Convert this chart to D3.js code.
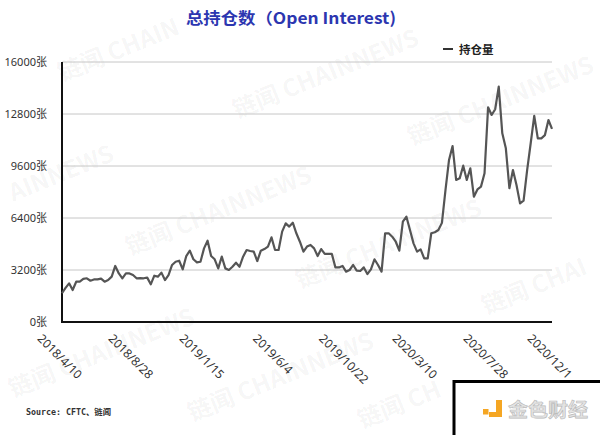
<!DOCTYPE html>
<html>
<head>
<meta charset="utf-8">
<script src="https://cdn.jsdelivr.net/npm/d3@7/dist/d3.min.js"></script>
<style>
  html, body { margin: 0; padding: 0; background: #fff; }
  svg { display: block; }
</style>
</head>
<body>
<svg id="chart" width="600" height="435"></svg>
<script>
// ---- data ----
const seriesName = "持仓量";
const openInterest = [
  1770, 2100, 2380, 1970, 2480, 2480, 2650, 2690, 2540, 2620,
  2620, 2670, 2480, 2580, 2790, 3450, 2990, 2690, 2990, 2990,
  2890, 2690, 2700, 2690, 2730, 2320, 2850, 2790, 3040, 2580,
  2890, 3510, 3710, 3770, 3240, 4060, 4390, 3860, 3670, 3710,
  4530, 5000, 4060, 3860, 3300, 4020, 3300, 3200, 3400, 3650,
  3400, 4020, 4430, 4370, 4330, 3750, 4390, 4490, 4640, 5210,
  4430, 4430, 5560, 6070, 5870, 6110, 5460, 4940, 4330, 4640,
  4740, 4530, 4060, 4490, 4190, 4190, 4190, 3360, 3360, 3450,
  3100, 3200, 3510, 3160, 3140, 3360, 2950, 3240, 3860, 3510,
  3100, 5460, 5460, 5250, 4940, 4390, 6170, 6480, 5660, 4840,
  4330, 4470, 3920, 3920, 5460, 5520, 5660, 6100, 8120, 9970,
  10830, 8740, 8840, 9620, 8740, 9460, 7710, 8160, 8330, 9150,
  13210, 12740, 13090, 14480, 11610, 10690, 8230, 9350, 8430, 7300,
  7470, 9350, 11000, 12680, 11300, 11300, 11500, 12430, 11880
];
const xTickLabels = ["2018/4/10", "2018/8/28", "2019/1/15", "2019/6/4", "2019/10/22", "2020/3/10", "2020/7/28", "2020/12/1"];
const xTickWeeks = [0, 20, 40, 60, 80, 100, 120, 138];
const yTicks = [0, 3200, 6400, 9600, 12800, 16000];
const yUnit = "张";
const titleText = "总持仓数（Open Interest)";
const sourceText = "Source: CFTC、链闻";
const logoText = "金色财经";
// watermark texts (visible parts of "链闻 CHAINNEWS")
const watermarkTexts = ["链闻 CHAIN", "链闻 CHAINNEWS", "链闻 CHAINNEWS", "AINNEWS", "链闻 CHAINNEWS",
                        "链闻 CHAINNEWS", "链闻 CHAI", "链闻 CHAINNEWS", "链闻 CHAINNEWS", "链闻 CH"];

// ---- layout ----
const svg = d3.select("#chart");
const plotL = 62, plotR = 552, plotT = 62, plotB = 322;
const x = d3.scaleLinear().domain([0, openInterest.length - 1]).range([plotL, plotR]);
const y = d3.scaleLinear().domain([0, 16000]).range([plotB, plotT]);
const FONT = "'Noto Sans', 'Noto Sans CJK SC', sans-serif";

svg.append("rect").attr("width", 600).attr("height", 435).attr("fill", "#fff");

// watermarks (start positions)
const wmPos = [[58, 72], [233, 109], [408, 136], [9, 192], [126, 246], [296, 279], [482, 305], [9, 388], [188, 412], [358, 419]];
svg.append("g").selectAll("text").data(watermarkTexts).join("text")
  .attr("transform", (d, i) => `translate(${wmPos[i][0]},${wmPos[i][1]}) rotate(-22)`)
  .attr("text-anchor", "start").attr("dominant-baseline", "central")
  .attr("font-family", "'Noto Sans CJK SC', 'Noto Sans', sans-serif")
  .attr("font-size", 24).attr("font-weight", 700)
  .attr("fill", "#000").attr("fill-opacity", 0.05)
  .text(d => d);

// title
svg.append("text")
  .attr("x", 186).attr("y", 24)
  .attr("font-family", "'Noto Sans CJK SC', 'Noto Sans', sans-serif")
  .attr("font-size", 16).attr("font-weight", 700)
  .attr("fill", "#2c36b0")
  .attr("textLength", 210).attr("lengthAdjust", "spacingAndGlyphs")
  .text(titleText);

// legend
svg.append("line").attr("x1", 443).attr("x2", 453).attr("y1", 49).attr("y2", 49)
  .attr("stroke", "#333").attr("stroke-width", 2);
svg.append("text").attr("x", 459).attr("y", 49)
  .attr("dominant-baseline", "central")
  .attr("font-family", "'Noto Sans CJK SC', sans-serif")
  .attr("font-size", 11.5).attr("font-weight", 700).attr("fill", "#222")
  .text(seriesName);

// grid lines
svg.append("g").selectAll("line").data(yTicks.filter(t => t > 0)).join("line")
  .attr("x1", plotL).attr("x2", plotR)
  .attr("y1", d => y(d)).attr("y2", d => y(d))
  .attr("stroke", "#c6c6c6").attr("stroke-width", 1);

// y axis labels
const yAxis = d3.axisLeft(y).tickValues(yTicks).tickSize(0).tickPadding(15)
  .tickFormat(d => d + yUnit);
const yg = svg.append("g").attr("transform", `translate(${plotL},0)`).call(yAxis);
yg.select(".domain").remove();
yg.selectAll("text")
  .attr("font-family", FONT).attr("font-size", 11).attr("fill", "#333");

// x axis labels (rotated 45deg)
const xg = svg.append("g");
xTickWeeks.forEach((w, i) => {
  const t = xg.append("text")
    .attr("text-anchor", "middle").attr("dominant-baseline", "central")
    .attr("font-family", FONT).attr("font-size", 12).attr("fill", "#333")
    .text(xTickLabels[i]);
  const L = t.node().getComputedTextLength();
  const cy = 333 + (L + 9) * 0.7071 / 2;
  t.attr("transform", `translate(${x(w) - 2},${cy}) rotate(45)`);
});

// axes lines
svg.append("line").attr("x1", plotL).attr("x2", plotL).attr("y1", plotT).attr("y2", plotB + 1)
  .attr("stroke", "#111").attr("stroke-width", 2);
svg.append("line").attr("x1", plotL - 1).attr("x2", plotR).attr("y1", plotB).attr("y2", plotB)
  .attr("stroke", "#111").attr("stroke-width", 2);

// data line
const line = d3.line().x((d, i) => x(i)).y(d => y(d));
svg.append("path").datum(openInterest)
  .attr("d", line).attr("fill", "none")
  .attr("stroke", "#555").attr("stroke-width", 2.2)
  .attr("stroke-linejoin", "round");

// source
svg.append("text").attr("x", 26).attr("y", 415)
  .attr("font-family", "'DejaVu Sans Mono', 'Noto Sans CJK SC', monospace")
  .attr("font-size", 8.5).attr("font-weight", 700).attr("fill", "#333")
  .attr("textLength", 85).attr("lengthAdjust", "spacingAndGlyphs")
  .text(sourceText);

// logo box
svg.append("rect").attr("x", 454).attr("y", 381.5).attr("width", 160).attr("height", 70)
  .attr("fill", "#fff").attr("stroke", "#000").attr("stroke-width", 3);
const logo = svg.append("g");
logo.append("rect").attr("x", 483).attr("y", 409).attr("width", 5.5).attr("height", 5.5).attr("fill", "#f5a623");
logo.append("path").attr("d", "M496,400 h6 v17 h-13 v-5 h7 z").attr("fill", "#f5a623");
logo.append("text").attr("x", 508).attr("y", 417)
  .attr("font-family", "'Noto Sans CJK SC', sans-serif")
  .attr("font-size", 19).attr("font-weight", 700)
  .attr("fill", "#e4e4e4").attr("stroke", "#b8b8b8").attr("stroke-width", 0.6)
  .attr("textLength", 80).attr("lengthAdjust", "spacingAndGlyphs")
  .text(logoText);
</script>
</body>
</html>
